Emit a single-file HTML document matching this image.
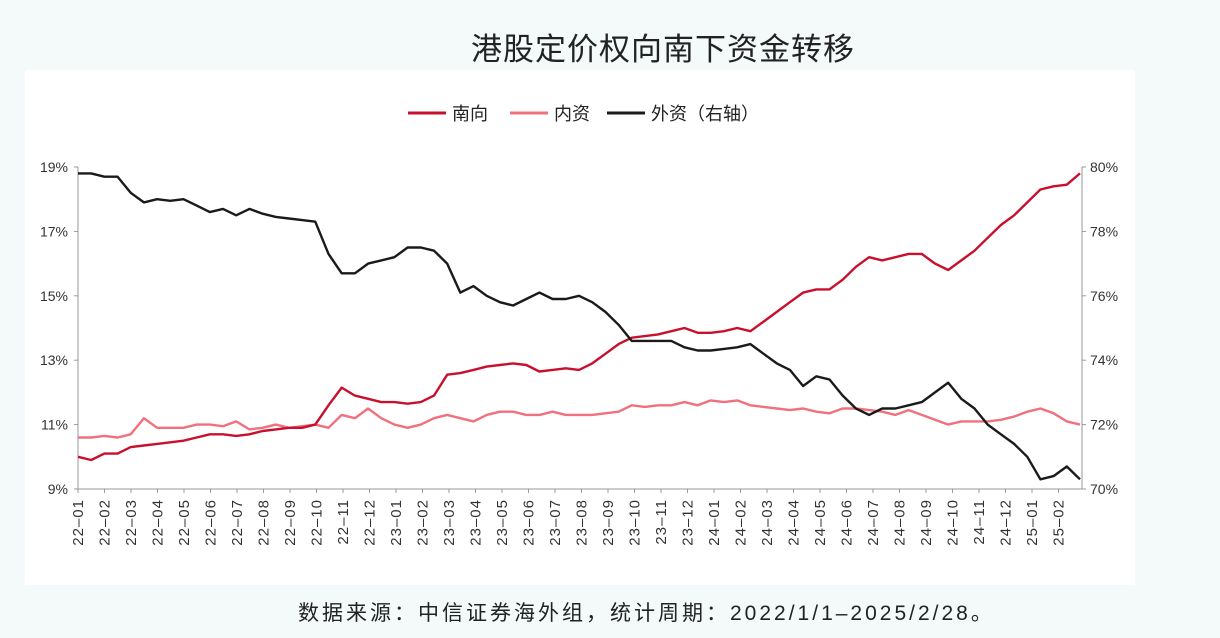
<!DOCTYPE html>
<html><head><meta charset="utf-8"><style>
body{margin:0;width:1220px;height:638px;background:#f4f9fa;font-family:"Liberation Sans","Noto Sans CJK SC",sans-serif;overflow:hidden;position:relative}
#title{position:absolute;top:24px;left:0;width:1326px;text-align:center;font-size:31px;color:#222;letter-spacing:1px}
#panel{position:absolute;left:25px;top:70px;width:1110px;height:515px;background:#fff}
#src{position:absolute;top:597px;left:298px;font-size:21px;color:#222;letter-spacing:3px;white-space:nowrap}
svg{position:absolute;left:0;top:0}
</style></head><body>
<div id="title">港股定价权向南下资金转移</div>
<div id="panel"></div>
<svg id="chart" width="1220" height="638"></svg>
<div id="src">数据来源：中信证券海外组，统计周期：2022/1/1–2025/2/28。</div>
<script>
const months=["22-01","22-02","22-03","22-04","22-05","22-06","22-07","22-08","22-09","22-10","22-11","22-12","23-01","23-02","23-03","23-04","23-05","23-06","23-07","23-08","23-09","23-10","23-11","23-12","24-01","24-02","24-03","24-04","24-05","24-06","24-07","24-08","24-09","24-10","24-11","24-12","25-01","25-02"];
const leftTicks=[9,11,13,15,17,19];
const rightTicks=[70,72,74,76,78,80];
const southbound=[10.0,9.9,10.1,10.1,10.3,10.35,10.4,10.45,10.5,10.6,10.7,10.7,10.65,10.7,10.8,10.85,10.9,10.9,11.0,11.6,12.15,11.9,11.8,11.7,11.7,11.65,11.7,11.9,12.55,12.6,12.7,12.8,12.85,12.9,12.85,12.65,12.7,12.75,12.7,12.9,13.2,13.5,13.7,13.75,13.8,13.9,14.0,13.85,13.85,13.9,14.0,13.9,14.2,14.5,14.8,15.1,15.2,15.2,15.5,15.9,16.2,16.1,16.2,16.3,16.3,16.0,15.8,16.1,16.4,16.8,17.2,17.5,17.9,18.3,18.4,18.45,18.8];
const domestic=[10.6,10.6,10.65,10.6,10.7,11.2,10.9,10.9,10.9,11.0,11.0,10.95,11.1,10.85,10.9,11.0,10.9,10.95,11.0,10.9,11.3,11.2,11.5,11.2,11.0,10.9,11.0,11.2,11.3,11.2,11.1,11.3,11.4,11.4,11.3,11.3,11.4,11.3,11.3,11.3,11.35,11.4,11.6,11.55,11.6,11.6,11.7,11.6,11.75,11.7,11.75,11.6,11.55,11.5,11.45,11.5,11.4,11.35,11.5,11.5,11.45,11.4,11.3,11.45,11.3,11.15,11.0,11.1,11.1,11.1,11.15,11.25,11.4,11.5,11.35,11.1,11.0];
const foreign=[79.8,79.8,79.7,79.7,79.2,78.9,79.0,78.95,79.0,78.8,78.6,78.7,78.5,78.7,78.55,78.45,78.4,78.35,78.3,77.3,76.7,76.7,77.0,77.1,77.2,77.5,77.5,77.4,77.0,76.1,76.3,76.0,75.8,75.7,75.9,76.1,75.9,75.9,76.0,75.8,75.5,75.1,74.6,74.6,74.6,74.6,74.4,74.3,74.3,74.35,74.4,74.5,74.2,73.9,73.7,73.2,73.5,73.4,72.9,72.5,72.3,72.5,72.5,72.6,72.7,73.0,73.3,72.8,72.5,72.0,71.7,71.4,71.0,70.3,70.4,70.7,70.3];
const NS="http://www.w3.org/2000/svg",svg=document.getElementById('chart');
const X0=78,X1=1080,YT=167,YB=489,MW=26.5;
const yL=v=>YB-(v-9)/10*(YB-YT), yR=v=>YB-(v-70)/10*(YB-YT);
const xI=(i,n)=>X0+i/(n-1)*(X1-X0);
function mk(t,a){const e=document.createElementNS(NS,t);for(const k in a)e.setAttribute(k,a[k]);svg.appendChild(e);return e;}
let e;
e=mk('line',{x1:X0,y1:YT,x2:X0,y2:YB,stroke:'#999','stroke-width':1});

e=mk('line',{x1:X1+2,y1:YT,x2:X1+2,y2:YB,stroke:'#999','stroke-width':1});

e=mk('line',{x1:X0,y1:YB,x2:X1+2,y2:YB,stroke:'#999','stroke-width':1});

leftTicks.forEach(v=>{mk('line',{x1:X0-4,x2:X0,y1:yL(v),y2:yL(v),stroke:'#999'});
 e=mk('text',{x:X0-10,y:yL(v)+5,'text-anchor':'end','font-size':14,fill:'#333'});e.textContent=v+'%';
 });
rightTicks.forEach(v=>{mk('line',{x1:X1+2,x2:X1+6,y1:yR(v),y2:yR(v),stroke:'#999'});
 e=mk('text',{x:X1+10,y:yR(v)+5,'font-size':14,fill:'#333'});e.textContent=v+'%';
 });
months.forEach((m,i)=>{const x=X0+i*MW;mk('line',{x1:x,x2:x,y1:YB,y2:YB+4,stroke:'#999'});
 e=mk('text',{x:x+5,y:YB+10,'text-anchor':'end','font-size':15,fill:'#333',transform:`rotate(-90 ${x+5} ${YB+10})`,'letter-spacing':'1'});
 e.textContent=m.replace('-','–');});
function line(arr,f,col,name){const d=arr.map((v,i)=>(i?'L':'M')+xI(i,arr.length).toFixed(1)+','+f(v).toFixed(1)).join('');
 e=mk('path',{d,fill:'none',stroke:col,'stroke-width':2.4,'stroke-linejoin':'round'});
 }
line(domestic,yL,'#f0707e','domestic-line');
line(southbound,yL,'#c8102e','southbound-line');
line(foreign,yR,'#1a1a1a','foreign-line');
[[408,'#c8102e','南向'],[510,'#f0707e','内资'],[607,'#1a1a1a','外资（右轴）']].forEach(([x,c,t])=>{
 e=mk('line',{x1:x,x2:x+38,y1:113,y2:113,stroke:c,'stroke-width':3});
 
 e=mk('text',{x:x+44,y:120,'font-size':18,fill:'#222'});e.textContent=t;
 });
</script>
</body></html>
